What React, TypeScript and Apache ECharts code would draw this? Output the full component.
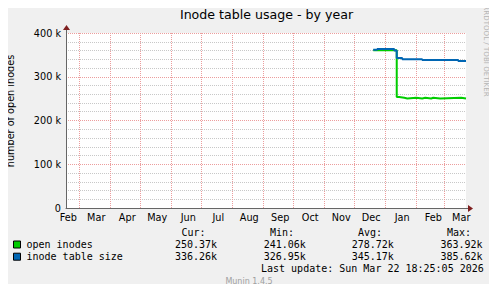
import React, { useEffect, useRef } from 'react';
import * as echarts from 'echarts';

// ---------- data ----------
const START = '2025-02-15 18:25';
const END = '2026-03-22 18:25';

const monthStarts = [
  '2025-03-01', '2025-04-01', '2025-05-01', '2025-06-01', '2025-07-01', '2025-08-01',
  '2025-09-01', '2025-10-01', '2025-11-01', '2025-12-01', '2026-01-01', '2026-02-01', '2026-03-01',
];
const monthLabelDates = [
  '2025-02-18', '2025-03-18', '2025-04-18', '2025-05-18', '2025-06-18', '2025-07-18', '2025-08-18',
  '2025-09-18', '2025-10-18', '2025-11-18', '2025-12-18', '2026-01-18', '2026-02-18', '2026-03-18',
];
const monthLabels = ['Feb', 'Mar', 'Apr', 'May', 'Jun', 'Jul', 'Aug', 'Sep', 'Oct', 'Nov', 'Dec', 'Jan', 'Feb', 'Mar'];

const openDates = [
  '2025-12-20', '2026-01-12 12:00', '2026-01-15', '2026-01-20', '2026-01-23', '2026-02-01',
  '2026-02-07', '2026-02-10', '2026-02-16', '2026-02-18', '2026-02-25', '2026-03-18', END,
];
const openValues = [
  360700, 253500, 251900, 250400, 251900, 250400, 251900, 250400, 251900, 250400, 251900, 250400, 250400,
];

const sizeDates = [
  '2025-12-20', '2025-12-24', '2026-01-10', '2026-01-12 12:00', '2026-01-18', '2026-02-07', '2026-03-15', END,
];
const sizeValues = [361600, 363400, 360000, 342900, 340100, 338300, 336200, 336200];

const seriesNames = ['open inodes', 'inode table size'];
const statHeaders = ['Cur:', 'Min:', 'Avg:', 'Max:'];
const openStats = ['250.37k', '241.06k', '278.72k', '363.92k'];
const sizeStats = ['336.26k', '326.95k', '345.17k', '385.62k'];
const lastUpdate = 'Last update: Sun Mar 22 18:25:05 2026';
const titleText = 'Inode table usage - by year';
const yAxisName = 'number of open inodes';
const watermark = 'RRDTOOL / TOBI OETIKER';
const footer = 'Munin 1.4.5';

// ---------- helpers / styles ----------
const toTime = (s: string) =>
  new Date(s.length <= 10 ? s + 'T00:00:00' : s.replace(' ', 'T') + ':00').getTime();

const COLORS = ['#00cc00', '#0066b3'];
const SANS = 'DejaVu Sans';
const MONO = 'DejaVu Sans Mono';

export default function App() {
  const ref = useRef<HTMLDivElement>(null);

  useEffect(() => {
    if (!ref.current) return;
    const chart = echarts.init(ref.current, undefined, { renderer: 'svg' });

    const labelTimes = monthLabelDates.map(toTime);
    const labelFor = (v: number) => {
      let best = 0;
      labelTimes.forEach((t, i) => {
        if (Math.abs(t - v) < Math.abs(labelTimes[best] - v)) best = i;
      });
      return monthLabels[best];
    };

    const seriesData = [
      openDates.map((d, i) => [toTime(d), openValues[i]]),
      sizeDates.map((d, i) => [toTime(d), sizeValues[i]]),
    ];
    const stats = [openStats, sizeStats];

    const headerX = [181.5, 270, 358, 447];
    const valueX = [175, 263.7, 351.7, 440.4];
    const rowY = [244.5, 256.7];

    const graphic: any[] = [
      { type: 'rect', shape: { x: 495, y: 0, width: 2, height: 292 }, style: { fill: '#999999' }, silent: true },
      { type: 'rect', shape: { x: 0, y: 290, width: 497, height: 2 }, style: { fill: '#999999' }, silent: true },
      {
        type: 'text', x: 266.5, y: 14,
        style: { text: titleText, fill: '#000', font: `12.6px "${SANS}"`, textAlign: 'center', textVerticalAlign: 'middle' },
      },
      {
        type: 'text', x: 10.5, y: 111, rotation: Math.PI / 2,
        style: { text: yAxisName, fill: '#000', font: `9.7px "${SANS}"`, textAlign: 'center', textVerticalAlign: 'middle' },
      },
      {
        type: 'text', x: 486.5, y: 51, rotation: -Math.PI / 2,
        style: { text: watermark, fill: '#b4b4b4', font: `7.1px "${SANS}"`, textAlign: 'center', textVerticalAlign: 'middle' },
      },
      { type: 'line', shape: { x1: 66.5, y1: 33, x2: 66.5, y2: 28 }, style: { stroke: '#666', lineWidth: 1 } },
      { type: 'polygon', shape: { points: [[63, 30], [70, 30], [66.5, 25]] }, style: { fill: '#7f1f1f' } },
      { type: 'line', shape: { x1: 466, y1: 208.5, x2: 470, y2: 208.5 }, style: { stroke: '#666', lineWidth: 1 } },
      { type: 'polygon', shape: { points: [[468, 205], [468, 212], [473, 208.5]] }, style: { fill: '#7f1f1f' } },
      {
        type: 'text', x: 249, y: 281,
        style: { text: footer, fill: '#a0a0a0', font: `8px "${SANS}"`, textAlign: 'center', textVerticalAlign: 'middle' },
      },
      {
        type: 'text', x: 261, y: 268.7,
        style: { text: lastUpdate, fill: '#000', font: `10px "${MONO}"`, textAlign: 'left', textVerticalAlign: 'middle' },
      },
    ];

    statHeaders.forEach((h, i) => {
      graphic.push({
        type: 'text', x: headerX[i], y: 232.7,
        style: { text: h, fill: '#000', font: `10px "${MONO}"`, textAlign: 'left', textVerticalAlign: 'middle' },
      });
    });

    seriesNames.forEach((name, r) => {
      graphic.push({
        type: 'rect', shape: { x: 13.5, y: rowY[r] - 3.5, width: 7, height: 7 },
        style: { fill: COLORS[r], stroke: '#000', lineWidth: 1 },
      });
      graphic.push({
        type: 'text', x: 26.5, y: rowY[r],
        style: { text: name, fill: '#000', font: `10px "${MONO}"`, textAlign: 'left', textVerticalAlign: 'middle' },
      });
      stats[r].forEach((v, i) => {
        graphic.push({
          type: 'text', x: valueX[i], y: rowY[r],
          style: { text: v, fill: '#000', font: `10px "${MONO}"`, textAlign: 'left', textVerticalAlign: 'middle' },
        });
      });
    });

    chart.setOption({
      animation: false,
      backgroundColor: '#f0f0f0',
      textStyle: { fontFamily: SANS },
      grid: {
        left: 66, top: 33, width: 400, height: 175,
        show: true, backgroundColor: '#ffffff', borderWidth: 0,
        containLabel: false,
        outerBoundsMode: 'none',
      },
      xAxis: {
        type: 'value',
        min: toTime(START),
        max: toTime(END),
        axisLine: { show: true, lineStyle: { color: '#666', width: 1 } },
        axisTick: { show: false, customValues: monthStarts.map(toTime) },
        splitLine: { show: true, lineStyle: { color: '#ec9d9d', type: [1, 1], width: 1 } },
        axisLabel: {
          customValues: labelTimes,
          formatter: (v: number) => labelFor(v),
          color: '#000', fontSize: 9.7, fontFamily: SANS, margin: 4, hideOverlap: false,
          showMinLabel: true, showMaxLabel: true,
        },
      },
      yAxis: {
        type: 'value',
        min: 0, max: 400000, interval: 100000,
        axisLine: { show: true, lineStyle: { color: '#666', width: 1 } },
        axisTick: { show: false },
        axisLabel: {
          formatter: (v: number) => (v === 0 ? '0' : `${v / 1000} k`),
          color: '#000', fontSize: 9.7, fontFamily: SANS, margin: 5,
        },
        splitLine: { show: true, lineStyle: { color: '#ec9d9d', type: [1, 1], width: 1 } },
        minorTick: { show: false, splitNumber: 5 },
        minorSplitLine: { show: true, lineStyle: { color: '#c8c8c8', type: [1, 1], width: 1 } },
      },
      series: seriesNames.map((name, i) => ({
        name,
        type: 'line',
        step: 'end',
        data: seriesData[i],
        symbol: 'none',
        lineStyle: { color: COLORS[i], width: 2 },
        itemStyle: { color: COLORS[i] },
        z: 3 + i,
      })),
      graphic,
    });

    return () => chart.dispose();
  }, []);

  return <div ref={ref} style={{ width: 497, height: 292, margin: -8 }} />;
}
